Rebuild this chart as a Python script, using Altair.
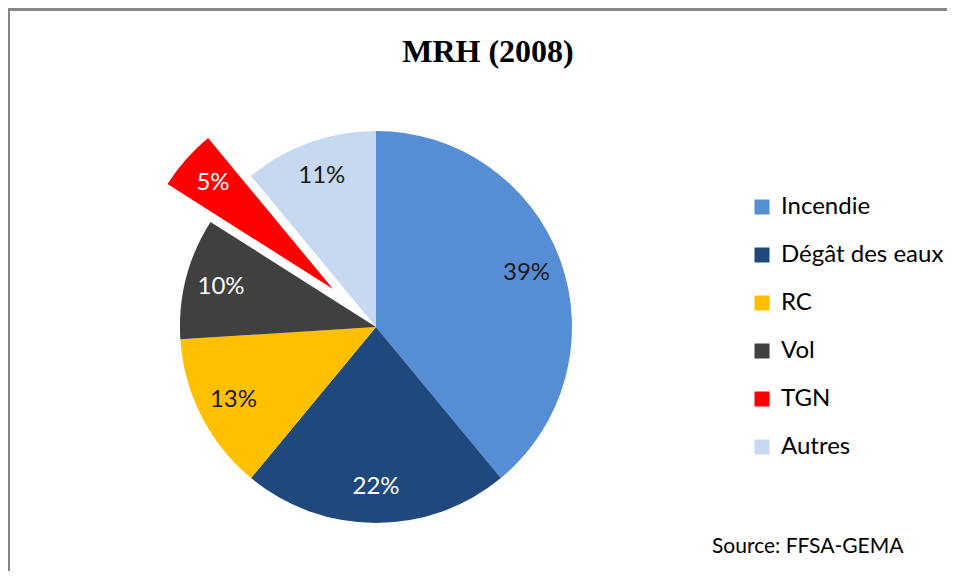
import altair as alt
import pandas as pd

categories = ["Incendie", "Dégât des eaux", "RC", "Vol", "TGN", "Autres"]
values = [39, 22, 13, 10, 5, 11]
labels = ["39%", "22%", "13%", "10%", "5%", "11%"]
colors = ["#558ED5", "#1F497D", "#FFC000", "#404040", "#FF0000", "#C6D9F1"]
exploded = "TGN"
title_text = "MRH (2008)"
source_text = "Source: FFSA-GEMA"

df = pd.DataFrame({"cat": categories, "value": values, "label": labels,
                   "order": list(range(len(categories)))})

W, H = 939, 563
CX, CY = 368, 319
R = 196
LR = 160
EX_DX, EX_DY = -43, -38
FONT = "Lato"

total = sum(values)
theta_scale = alt.Scale(domain=[0, total])

base = alt.Chart(df).transform_window(
    cum="sum(value)", sort=[alt.SortField("order")], frame=[None, 0]
).transform_calculate(
    start="datum.cum - datum.value",
    mid="datum.cum - datum.value / 2",
)

color_enc = alt.Color(
    "cat:N",
    scale=alt.Scale(domain=categories, range=colors),
    sort=categories,
    legend=alt.Legend(
        title=None, orient="none", legendX=742, legendY=187,
        symbolType="square", symbolSize=225, symbolStrokeWidth=0,
        labelFont=FONT, labelFontSize=24, labelColor="#000000",
        labelOffset=7, rowPadding=24, labelLimit=300,
    ),
)

arcs = base.transform_filter(f"datum.cat != '{exploded}'").mark_arc(
    outerRadius=R, strokeWidth=0
).encode(
    theta=alt.Theta("start:Q", scale=theta_scale),
    theta2="cum:Q",
    color=color_enc,
    x=alt.value(CX), y=alt.value(CY),
)

arc_ex = base.transform_filter(f"datum.cat == '{exploded}'").mark_arc(
    outerRadius=R, strokeWidth=0
).encode(
    theta=alt.Theta("start:Q", scale=theta_scale),
    theta2="cum:Q",
    color=alt.Color("cat:N", scale=alt.Scale(domain=categories, range=colors), legend=None),
    x=alt.value(CX + EX_DX), y=alt.value(CY + EX_DY),
)

dark_cond = "indexof(['Incendie','RC','Autres'], datum.cat) >= 0"

txt = base.transform_filter(f"datum.cat != '{exploded}'").mark_text(
    radius=LR, font=FONT, fontSize=24
).encode(
    theta=alt.Theta("mid:Q", scale=theta_scale),
    text="label:N",
    color=alt.condition(dark_cond, alt.value("#1a1a1a"), alt.value("#ffffff")),
    x=alt.value(CX), y=alt.value(CY),
)

txt_ex = base.transform_filter(f"datum.cat == '{exploded}'").mark_text(
    radius=LR, font=FONT, fontSize=24, color="#ffffff"
).encode(
    theta=alt.Theta("mid:Q", scale=theta_scale),
    text="label:N",
    x=alt.value(CX + EX_DX), y=alt.value(CY + EX_DY),
)

one = alt.Chart(df).transform_filter("datum.order == 0")

title = one.mark_text(
    font="Liberation Serif", fontSize=32, fontWeight="bold", align="center",
    baseline="alphabetic", color="#000000"
).encode(x=alt.value(480), y=alt.value(54), text=alt.value(title_text))

src = one.mark_text(
    font=FONT, fontSize=21, align="left", baseline="alphabetic", color="#000000"
).encode(x=alt.value(704), y=alt.value(545), text=alt.value(source_text))

border_top = one.mark_rule(color="#878787", strokeWidth=3).encode(
    x=alt.value(-1), x2=alt.value(W), y=alt.value(1.5))

border_left = one.mark_rule(color="#878787", strokeWidth=3).encode(
    x=alt.value(0.5), y=alt.value(0), y2=alt.value(H))

chart = alt.layer(border_top, border_left, arcs, arc_ex, txt, txt_ex, title, src).properties(
    width=W, height=H, autosize="none", padding=0,
).configure_view(strokeWidth=0, stroke="transparent").configure(background="#ffffff")

chart.save("out.html", embed_options={"renderer": "svg", "actions": False})
